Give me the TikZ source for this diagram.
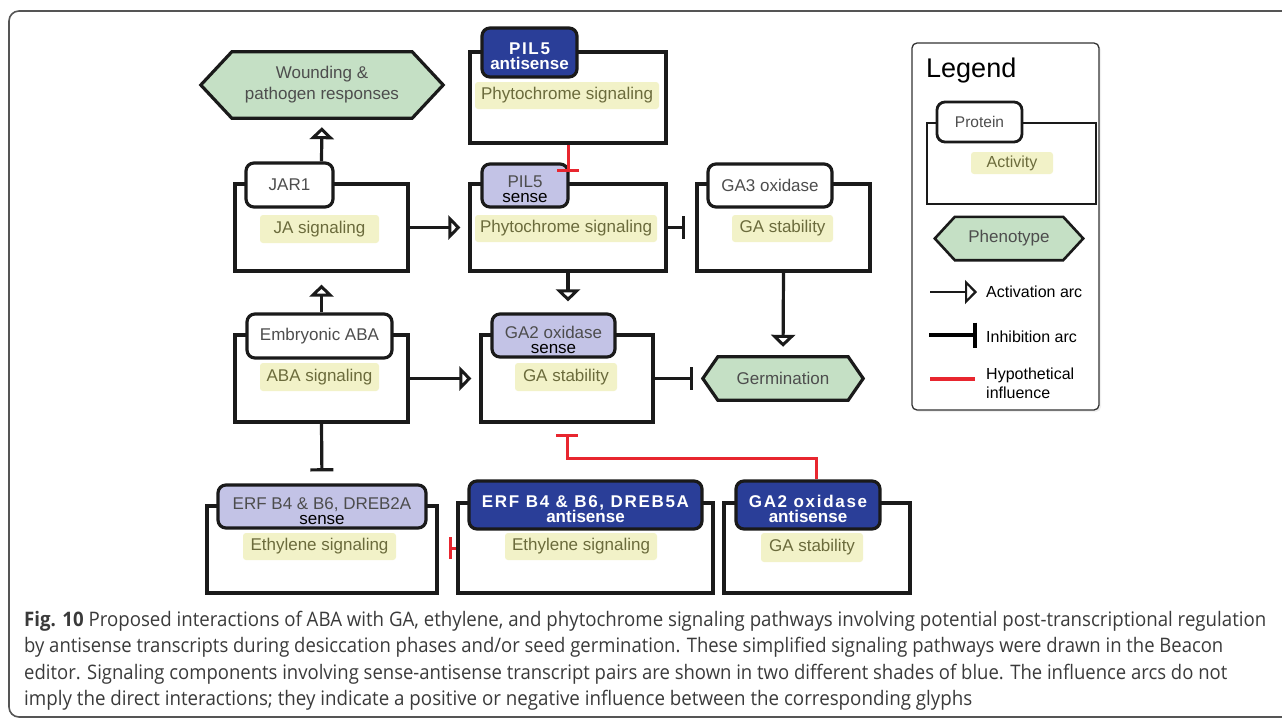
\documentclass[tikz,border=0pt]{standalone}
\usepackage{graphicx}
\usepackage{fontspec}
\setmainfont{Liberation Sans}
\newfontfamily\spfont[LetterSpace=10]{Liberation Sans}
\newfontfamily\capfont{Open Sans}
\usetikzlibrary{arrows.meta,backgrounds,shadows}
\pgfdeclarelayer{back0}
\pgfsetlayers{back0,background,main}
\definecolor{linec}{HTML}{1A1A1A}
\definecolor{dblue}{HTML}{2A3E98}
\definecolor{lav}{HTML}{C3C3E6}
\definecolor{hly}{HTML}{F2F2C8}
\definecolor{olivet}{HTML}{6B6B3C}
\definecolor{lblgray}{HTML}{4D4D4D}
\definecolor{hexg}{HTML}{C5E0C5}
\definecolor{hred}{HTML}{E8262F}
\definecolor{capgray}{HTML}{3A3A3A}
\definecolor{framegray}{HTML}{555555}
\begin{document}
\begin{tikzpicture}[x=1pt,y=-1pt,
  cont/.style={draw=linec, line width=3.2pt, fill=white, inner sep=0pt},
  lbl/.style={draw=linec, line width=3.2pt, rounded corners=8pt, inner sep=0pt, text=lblgray, font=\fontsize{17}{20}\selectfont},
  wlbl/.style={lbl, fill=white},
  slbl/.style={lbl, fill=lav},
  albl/.style={lbl, fill=dblue},
  tl/.style={align=center, inner sep=0pt, font=\fontsize{17}{20}\selectfont},
  hl/.style={fill=hly, rounded corners=3pt, inner sep=0pt, text=olivet, font=\fontsize{17}{20}\selectfont},
  hexn/.style={inner sep=0pt, align=center, text=lblgray, font=\fontsize{17}{21}\selectfont},
  hexs/.style={draw=linec, line width=3.2pt, fill=hexg, line join=miter},
  act/.style={draw=linec, line width=3.2pt, -{Triangle[open,length=12pt,width=24pt]}},
  inh/.style={draw=linec, line width=3.2pt, -{Bar[width=23pt]}},
  hyp/.style={draw=hred, line width=3pt, -{Bar[width=22pt]}},
  capn/.style={inner sep=0pt, anchor=base west, text=capgray, font=\capfont\fontsize{20}{24}\selectfont},
  legt/.style={inner sep=0pt, anchor=west, align=left, font=\fontsize{16}{19}\selectfont, text=black}
]
\useasboundingbox (0,0) rectangle (1282,718);
% outer frame
\draw[framegray, line width=1.6pt, rounded corners=10pt] (9,11) rectangle (1310,717);

% ---------- containers ----------
\node[cont, minimum width=173pt, minimum height=87pt] (jarC) at (321.5,227.5) {};
\node[cont, minimum width=196pt, minimum height=91pt] (pilaC) at (568,97.5) {};
\node[cont, minimum width=196pt, minimum height=87pt] (pilsC) at (568,227.5) {};
\node[cont, minimum width=173pt, minimum height=87pt] (ga3C) at (783.5,227.5) {};
\node[cont, minimum width=173pt, minimum height=87pt] (abaC) at (321.5,378.5) {};
\node[cont, minimum width=172pt, minimum height=87pt] (ga2sC) at (567,378.5) {};
\node[cont, minimum width=230pt, minimum height=87pt] (erfsC) at (322,549.5) {};
\node[cont, minimum width=255pt, minimum height=90pt] (erfaC) at (585.5,548) {};
\node[cont, minimum width=186pt, minimum height=90pt] (ga2aC) at (817,548) {};

% ---------- labels ----------
\node[wlbl, minimum width=87pt, minimum height=44pt] (jarL) at (289.5,185) {JAR1};
\node[albl, minimum width=95pt, minimum height=49pt] (pilaL) at (529.5,52.5) {};
\node[tl, text=white] (pilaT) at ([yshift=-4pt]pilaL.center) {{\spfont\bfseries PIL5}\\[-5pt]{\bfseries antisense}};
\node[slbl, minimum width=86pt, minimum height=43pt] (pilsL) at (525,185.5) {};
\node[tl] (pilsT) at ([yshift=-4pt]pilsL.center) {\color{lblgray}PIL5\\[-5pt]\color{black}sense};
\node[wlbl, minimum width=124pt, minimum height=43pt] (ga3L) at (770,185.5) {GA3 oxidase};
\node[wlbl, minimum width=145pt, minimum height=44pt] (abaL) at (319.5,336) {Embryonic ABA};
\node[slbl, minimum width=123pt, minimum height=43pt] (ga2sL) at (553.5,335.5) {};
\node[tl] (ga2sT) at ([yshift=-4pt]ga2sL.center) {\color{lblgray}GA2 oxidase\\[-5pt]\color{black}sense};
\node[slbl, minimum width=208pt, minimum height=43pt] (erfsL) at (322,506.5) {};
\node[tl] (erfsT) at ([yshift=-4.5pt]erfsL.center) {\color{lblgray}ERF B4 \& B6, DREB2A\\[-5pt]\color{black}sense};
\node[albl, minimum width=233pt, minimum height=48pt] (erfaL) at (585.5,505) {};
\node[tl, text=white] (erfaT) at ([yshift=-4pt]erfaL.center) {{\spfont\bfseries ERF B4 \& B6, DREB5A}\\[-5pt]{\bfseries antisense}};
\node[albl, minimum width=144pt, minimum height=48pt] (ga2aL) at (808,505) {};
\node[tl, text=white] (ga2aT) at ([yshift=-4pt]ga2aL.center) {{\spfont\bfseries GA2 oxidase}\\[-5pt]{\bfseries antisense}};

% ---------- highlights ----------
\node[hl, minimum width=119pt, minimum height=28pt] (jarH) at (319.5,229) {JA signaling};
\node[hl, minimum width=184pt, minimum height=27pt] (pilaH) at (567,95.5) {Phytochrome signaling};
\node[hl, minimum width=182pt, minimum height=27pt] (pilsH) at (566,228.5) {Phytochrome signaling};
\node[hl, minimum width=101pt, minimum height=27pt] (ga3H) at (782.5,228.5) {GA stability};
\node[hl, minimum width=119pt, minimum height=28pt] (abaH) at (319.5,377) {ABA signaling};
\node[hl, minimum width=102pt, minimum height=28pt] (ga2sH) at (566,377) {GA stability};
\node[hl, minimum width=153pt, minimum height=27pt] (erfsH) at (319.5,546.5) {Ethylene signaling};
\node[hl, minimum width=152pt, minimum height=27pt] (erfaH) at (581,546.5) {Ethylene signaling};
\node[hl, minimum width=102pt, minimum height=29pt] (ga2aH) at (812,547.5) {GA stability};

% ---------- phenotype hexagons ----------
\node[hexn, minimum width=242pt, minimum height=66pt] (wound) at (322,85) {Wounding \&\\pathogen responses};
\node[hexn, minimum width=160pt, minimum height=43pt] (germ) at (783,378.5) {Germination};
\begin{scope}[on background layer]
\draw[hexs] (wound.west) -- ([xshift=31pt]wound.north west) -- ([xshift=-31pt]wound.north east) -- (wound.east) -- ([xshift=-31pt]wound.south east) -- ([xshift=31pt]wound.south west) -- cycle;
\draw[hexs] (germ.west) -- ([xshift=15pt]germ.north west) -- ([xshift=-15pt]germ.north east) -- (germ.east) -- ([xshift=-15pt]germ.south east) -- ([xshift=15pt]germ.south west) -- cycle;
\end{scope}

% ---------- arcs ----------
\draw[act, shorten >=9pt] (jarC |- jarL.north) -- (wound.south);
\draw[act, shorten >=12pt] (abaC |- abaL.north) -- (jarC.south);
\draw[act, shorten >=8pt] (jarC.east) -- (pilsC.west);
\draw[act, shorten >=8pt] (abaC.east) -- (ga2sC.west);
\draw[act, shorten >=11pt] (pilsC.south) -- (pilsC.south |- ga2sL.north);
\draw[act, shorten >=10pt] (ga3C.south) -- (germ.north);
\draw[inh, shorten >=10pt] (pilsC.east) -- (ga3C.west);
\draw[inh, shorten >=10pt] (ga2sC.east) -- (germ.west);
\draw[inh, shorten >=12pt] (abaC.south) -- (erfsL.north);
% hypothetical influences
\draw[hyp, shorten >=10pt] (pilaC.south) -- (pilaC.south |- pilsC.north);
\draw[hyp, shorten >=10pt] (erfaC.west) -- (erfaC.west -| erfsC.east);
\coordinate (rbend) at (816,458);
\draw[hyp, shorten >=10pt] (ga2aL.north -| rbend) -- (rbend) -| (ga2sC.south);

% ---------- legend ----------
\begin{pgfonlayer}{back0}
\node[draw=black!80, line width=1.3pt, rounded corners=5pt, fill=white, minimum width=187pt, minimum height=367pt, inner sep=0pt,
      drop shadow={opacity=0.12, shadow xshift=2pt, shadow yshift=-2pt}] (legbox) at (1005.5,226.5) {};
\end{pgfonlayer}
\node[inner sep=0pt, anchor=west, font=\fontsize{27}{30}\selectfont] (legtitle) at (926,71) {Legend};
\node[cont, line width=2.8pt, minimum width=169pt, minimum height=81pt] (protC) at (1011.5,163.5) {};
\node[wlbl, line width=2.8pt, minimum width=85pt, minimum height=40pt, font=\fontsize{15.5}{18}\selectfont] (protL) at (979.5,122) {Protein};
\node[hl, minimum width=82pt, minimum height=22pt, font=\fontsize{16}{19}\selectfont] (actH) at (1012,163) {Activity};
\node[hexn, minimum width=148pt, minimum height=43pt] (phen) at (1009,238.5) {Phenotype};
\begin{scope}[on background layer]
\draw[hexs, line width=2.6pt] (phen.west) -- ([xshift=20pt]phen.north west) -- ([xshift=-20pt]phen.north east) -- (phen.east) -- ([xshift=-20pt]phen.south east) -- ([xshift=20pt]phen.south west) -- cycle;
\end{scope}
\coordinate (la1) at (930,292);
\coordinate (la2) at (977,292);
\draw[draw=linec, line width=2.2pt, -{Triangle[open,length=12pt,width=24pt]}] (la1) -- (la2);
\node[legt] (lat) at (986,292) {Activation arc};
\coordinate (li1) at (929,335);
\coordinate (li2) at (977,335);
\draw[draw=black, line width=4.5pt, -{Bar[width=25pt]}] (li1) -- (li2);
\node[legt] (lit) at (986,337) {Inhibition arc};
\coordinate (lh1) at (930,379);
\coordinate (lh2) at (975,379);
\draw[draw=hred, line width=3.5pt] (lh1) -- (lh2);
\node[legt] (lht) at (986,383.5) {Hypothetical\\influence};

% ---------- caption ----------
\node[capn] (cap1) at (24,626) {\resizebox{1242pt}{\height}{\textbf{Fig. 10} Proposed interactions of ABA with GA, ethylene, and phytochrome signaling pathways involving potential post-transcriptional regulation}};
\node[capn] (cap2) at (24,652) {\resizebox{1199pt}{\height}{by antisense transcripts during desiccation phases and/or seed germination. These simplified signaling pathways were drawn in the Beacon}};
\node[capn] (cap3) at (24,679) {\resizebox{1203pt}{\height}{editor. Signaling components involving sense-antisense transcript pairs are shown in two different shades of blue. The influence arcs do not}};
\node[capn] (cap4) at (24,705) {\resizebox{948pt}{\height}{imply the direct interactions; they indicate a positive or negative influence between the corresponding glyphs}};
\end{tikzpicture}
\end{document}
